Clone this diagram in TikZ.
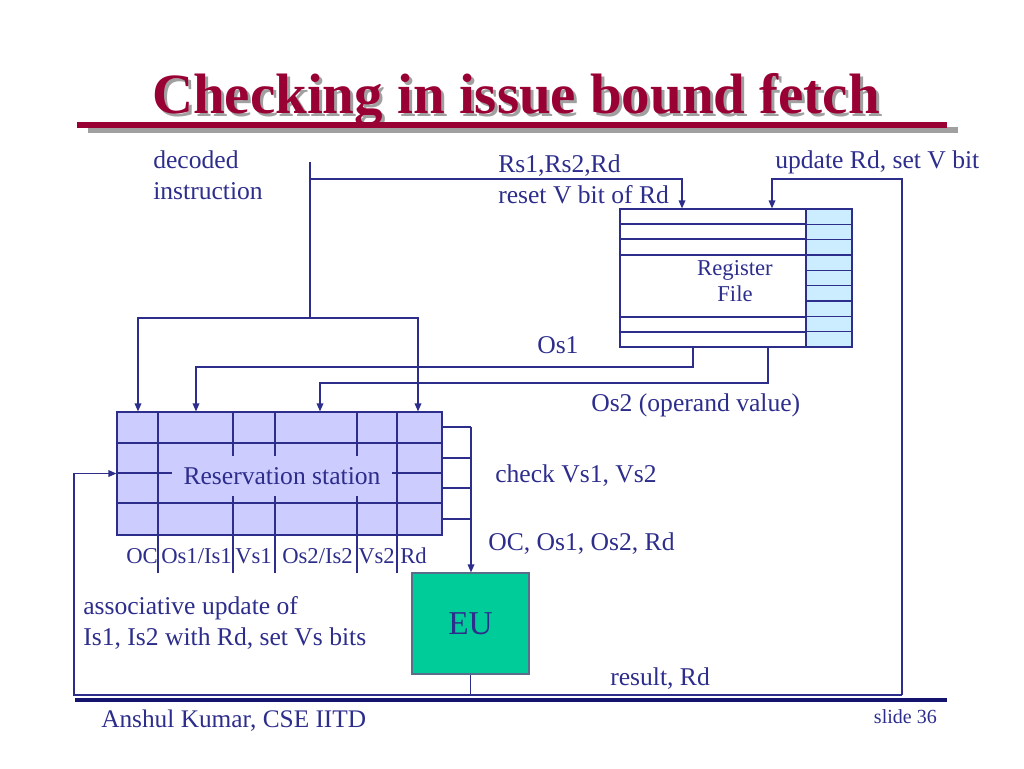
\documentclass[tikz,border=0pt]{standalone}
\usepackage{fontspec}
\setmainfont{Liberation Serif}
\usetikzlibrary{arrows.meta,fit}
\definecolor{navy}{RGB}{45,45,140}
\definecolor{titelrot}{RGB}{153,0,51}
\definecolor{schatten}{RGB}{160,160,160}
\definecolor{rsblau}{RGB}{204,204,255}
\definecolor{rfblau}{RGB}{204,236,255}
\definecolor{eugruen}{RGB}{0,204,153}
\definecolor{eurand}{RGB}{90,110,140}
\definecolor{balken}{RGB}{20,20,110}
\tikzset{
    leitung/.style={draw=navy, line width=0.9pt},
    pfeil/.style={leitung, -{Triangle[length=6pt,width=5pt]}},
    gross/.style={text=navy, font=\fontsize{19.2}{23}\selectfont, inner sep=0pt},
    klein/.style={text=navy, font=\fontsize{17}{20}\selectfont, inner sep=0pt},
    titelschrift/.style={font=\bfseries\fontsize{42.7}{50}\selectfont, inner sep=0pt, anchor=base},
}
\begin{document}
\begin{tikzpicture}[x=0.75pt, y=-0.75pt]
        \useasboundingbox (0,0) rectangle (1024,768);
        % Titel
        \node[titelschrift, text=schatten] (titelschatten) at (519,116) {Checking in issue bound fetch};
        \node[titelschrift, text=titelrot] (titel) at (516,113) {Checking in issue bound fetch};
        \fill[schatten] (88,127) rectangle (958,133);
        \fill[titelrot] (77,122) rectangle (947,128);
        % Registerdatei
        \fill[rfblau] (806,209) rectangle (852,347);
        \foreach \y in {224, 239, 255, 317, 332}
        {
            \draw[leitung] (620,\y) -- (806,\y);
        }
        \foreach \i in {1, ..., 8}
        {
            \draw[leitung] (806,{209+\i*15.33}) -- (852,{209+\i*15.33});
        }
        \draw[leitung] (806,209) -- (806,347);
        \node[fit={(620,209) (852,347)}, inner sep=0pt, leitung] (rf) {};
        \node[klein, align=center] (rflabel) at (735,281) {Register\\File};
        % Reservation station
        \node[fit={(117,412) (442,535)}, inner sep=0pt, leitung, fill=rsblau] (rs) {};
        \foreach \y in {443, 473, 503}
        {
            \draw[leitung] (117,\y) -- (442,\y);
        }
        \foreach \x in {158, 233, 275, 357, 397}
        {
            \draw[leitung] (\x,412) -- (\x,573);
        }
        \node[gross, fill=rsblau, minimum width=165pt, minimum height=30pt] (rslabel) at (282,476) {Reservation station};
        \foreach \x/\t [count=\i] in {126/OC, 161/{Os1/Is1}, 235/Vs1, 282/{Os2/Is2}, 358/Vs2, 400/Rd}
        {
            \node[klein, anchor=base west] (feld\i) at (\x,563) {\t};
        }
        % EU
        \node[fit={(412,573) (529,674)}, inner sep=0pt, draw=eurand, line width=0.9pt, fill=eugruen] (eu) {};
        \node[text=navy, font=\fontsize{25}{30}\selectfont] (eulabel) at (eu.center) {EU};
        % Leitungen
        \coordinate (di) at (310,162);
        \coordinate (dibus) at (310,318);
        \coordinate (oc) at (138,318);
        \coordinate (rd) at (418,318);
        \coordinate (rsein) at (682,179);
        \coordinate (os1ab) at (693,367);
        \coordinate (os1) at (196,367);
        \coordinate (os2ab) at (768,383);
        \coordinate (os2) at (320,383);
        \coordinate (vbit) at (772,179);
        \coordinate (busre) at (902,695);
        \coordinate (busli) at (74,695);
        \coordinate (sel) at (471,427);
        \draw[leitung] (di) -- (dibus);
        \draw[pfeil] (di |- rsein) -- (rsein) -- (rsein |- rf.north);
        \draw[pfeil] (dibus) -- (oc) -- (oc |- rs.north);
        \draw[pfeil] (dibus) -- (rd) -- (rd |- rs.north);
        \draw[pfeil] (os1ab |- rf.south) -- (os1ab) -- (os1) -- (os1 |- rs.north);
        \draw[pfeil] (os2ab |- rf.south) -- (os2ab) -- (os2) -- (os2 |- rs.north);
        \foreach \y in {427, 458, 488, 519}
        {
            \coordinate (s\y) at (471,\y);
            \draw[leitung] (s\y -| rs.east) -- (s\y);
        }
        \draw[pfeil] (sel) -- (sel |- eu.north);
        \draw[leitung] (eu.south) -- (eu.south |- busre);
        \draw[pfeil] (busre) -- (busli) -- (busli |- rs.west) -- (rs.west);
        \draw[pfeil] (busre) -- (busre |- vbit) -- (vbit) -- (vbit |- rf.north);
        % Beschriftungen (base = letzte Zeile)
        \node[gross, anchor=base west, align=left] (dekodiert) at (153,199) {decoded\\instruction};
        \node[gross, anchor=base west, align=left] (quellen) at (498,203) {Rs1,Rs2,Rd\\reset V bit of Rd};
        \node[gross, anchor=base west] (update) at (775,168) {update Rd, set V bit};
        \node[gross, anchor=base west] (os1text) at (537,353) {Os1};
        \node[gross, anchor=base west] (os2text) at (591,411) {Os2 (operand value)};
        \node[gross, anchor=base west] (check) at (495,482) {check Vs1, Vs2};
        \node[gross, anchor=base west] (operanden) at (488,550) {OC, Os1, Os2, Rd};
        \node[gross, anchor=base west, align=left] (assoz) at (83,645) {associative update of\\Is1, Is2 with Rd, set Vs bits};
        \node[gross, anchor=base west] (ergebnis) at (610,685) {result, Rd};
        % Fusszeile
        \fill[balken] (75,698) rectangle (947,702);
        \node[text=navy, font=\fontsize{19}{23}\selectfont, inner sep=0pt, anchor=base west] (autor) at (101,727) {Anshul Kumar, CSE IITD};
        \node[text=navy, font=\fontsize{15}{18}\selectfont, inner sep=0pt, anchor=base east] (folie) at (937,723) {slide 36};
\end{tikzpicture}
\end{document}
